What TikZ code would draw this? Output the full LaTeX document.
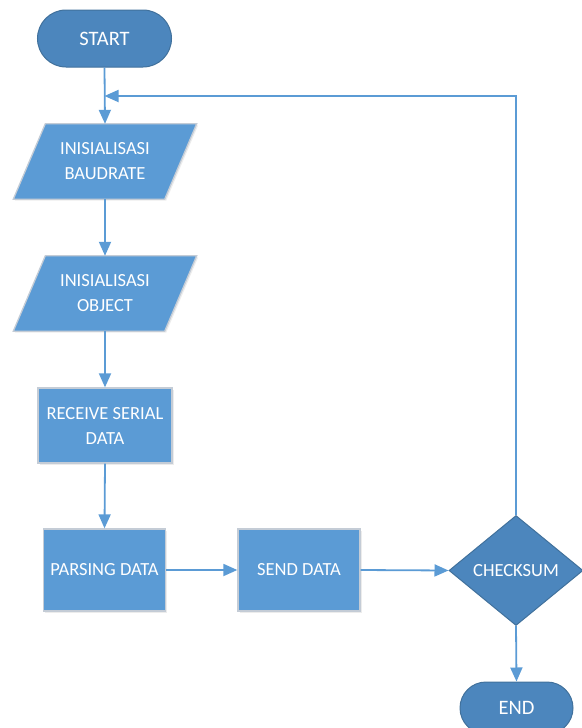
\documentclass[tikz,border=0pt]{standalone}
\usepackage{fontspec}
\setmainfont{Carlito}
\usetikzlibrary{shapes.geometric,shapes.misc,arrows.meta,backgrounds,shadows}
\definecolor{boxblue}{HTML}{5B9BD5}
\definecolor{darkblue}{HTML}{4C86BD}
\definecolor{darkedge}{HTML}{41719C}
\definecolor{lightedge}{HTML}{C4CCD6}
\definecolor{arrowblue}{HTML}{5B9BD5}
\begin{document}
\begin{tikzpicture}[x=1pt,y=-1pt,
  txt/.style={text=white,font=\fontsize{18.5}{25}\selectfont,align=center,inner sep=0pt},
  termbox/.style={txt,font=\fontsize{20.5}{25}\selectfont,rounded rectangle,fill=darkblue,draw=darkedge,line width=1pt,minimum width=134pt,minimum height=57pt},
  procbox/.style={txt,rectangle,fill=boxblue,draw=lightedge,line width=1.3pt,drop shadow={shadow xshift=1.5pt,shadow yshift=-1.5pt,opacity=0.15}},
  iobox/.style={txt,rectangle,minimum width=151pt,minimum height=75pt},
  iofill/.style={fill=boxblue,draw=lightedge,line width=1.3pt,drop shadow={shadow xshift=1.5pt,shadow yshift=-1.5pt,opacity=0.15}},
  decbox/.style={txt,diamond,fill=darkblue,draw=darkedge,line width=1pt,minimum width=134pt,minimum height=110pt},
  arr/.style={draw=arrowblue,line width=1.8pt,-{Triangle[length=14pt,width=12pt]}}]
\useasboundingbox (0,0) rectangle (581,728);

\node[termbox] (start) at (104.5,38.5) {START};
\node[iobox] (p1) at (105,161.5) {INISIALISASI\\BAUDRATE};
\node[iobox] (p2) at (105,293.5) {INISIALISASI\\OBJECT};
\node[procbox,minimum width=134pt,minimum height=75pt] (recv) at (105,425.5) {RECEIVE SERIAL\\DATA};
\node[procbox,minimum width=122pt,minimum height=82pt] (parse) at (104.5,570) {PARSING DATA};
\node[procbox,minimum width=122pt,minimum height=82pt] (send) at (299,570) {SEND DATA};
\node[decbox] (chk) at (516,570.5) {CHECKSUM};
\node[termbox,minimum width=113pt,minimum height=52pt] (end) at (516.5,708) {END};

\begin{scope}[on background layer]
  \path[iofill] ([xshift=16pt]p1.north west) -- ([xshift=16pt]p1.north east) -- ([xshift=-16pt]p1.south east) -- ([xshift=-16pt]p1.south west) -- cycle;
  \path[iofill] ([xshift=16pt]p2.north west) -- ([xshift=16pt]p2.north east) -- ([xshift=-16pt]p2.south east) -- ([xshift=-16pt]p2.south west) -- cycle;
\end{scope}

\coordinate (join) at (start.south |- 0,96);

\draw[arr] (start.south) -- (p1.north);
\draw[arr] (p1.south) -- (p2.north);
\draw[arr] (p2.south) -- (recv.north);
\draw[arr] (recv.south) -- (parse.north);
\draw[arr] (parse.east) -- (send.west);
\draw[arr] (send.east) -- (chk.west);
\draw[arr] (chk.south) -- (end.north);
\draw[arr] (chk.north) |- (join);
\end{tikzpicture}
\end{document}
